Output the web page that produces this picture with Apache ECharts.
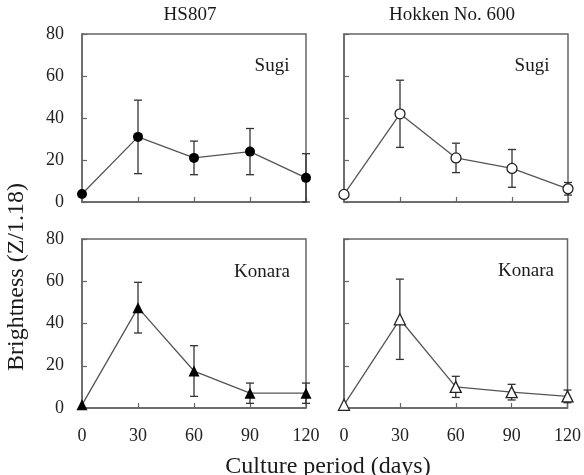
<!DOCTYPE html>
<html>
<head>
<meta charset="utf-8">
<script src="https://cdn.jsdelivr.net/npm/echarts@6/dist/echarts.min.js"></script>
<style>
  html, body { margin: 0; padding: 0; background: #fff; }
  #main { width: 584px; height: 475px; }
</style>
</head>
<body>
<div id="main"></div>
<script>
// culture period (days)
var days = [0, 30, 60, 90, 120];
var xTicks = [0, 30, 60, 90, 120];
var yTicks = [0, 20, 40, 60, 80];

// brightness means and error (half bar length)
var hsSugi = [3.8, 31, 21, 24, 11.5];
var hsSugiErr = [0, 17.5, 8, 11, 11.5];
var hkSugi = [3.6, 42, 21, 16, 6.3];
var hkSugiErr = [0, 16, 7, 9, 3];
var hsKonara = [1.5, 47.5, 17.5, 7, 7];
var hsKonaraErr = [0, 12, 12, 4.8, 4.8];
var hkKonara = [1.5, 42, 10, 7.5, 5.5];
var hkKonaraErr = [0, 19, 5, 3.7, 3];

var FONT = "'Liberation Serif', 'Times New Roman', serif";
var AX = '#666';

var chart = echarts.init(document.getElementById('main'), null, { renderer: 'canvas' });

// grid positions: TL, TR, BL, BR
var grids = [
  { left: 82, top: 34, width: 224, height: 168 },
  { left: 344, top: 34, width: 224, height: 168 },
  { left: 82, top: 239, width: 224, height: 169 },
  { left: 344, top: 239, width: 224, height: 169 }
];

function xAxisFor(i) {
  return {
    gridIndex: i, type: 'value', min: 0, max: 120, interval: 30,
    axisLine: { lineStyle: { color: AX, width: 1.5 } },
    axisTick: { inside: true, length: 5, lineStyle: { color: AX, width: 1.2 } },
    axisLabel: { show: i >= 2, margin: 19, fontFamily: FONT, fontSize: 18, color: '#222',
      customValues: xTicks },
    splitLine: { show: false }
  };
}
function yAxisFor(i) {
  return {
    gridIndex: i, type: 'value', min: 0, max: 80, interval: 20,
    axisLine: { show: true, lineStyle: { color: AX, width: 1.5 } },
    axisTick: { show: true, inside: true, length: 5, lineStyle: { color: AX, width: 1.2 } },
    axisLabel: { show: i % 2 === 0, margin: 18, fontFamily: FONT, fontSize: 18, color: '#222',
      customValues: yTicks },
    splitLine: { show: false }
  };
}

function zip(vals, errs) {
  return days.map(function (d, k) { return [d, vals[k], errs[k]]; });
}

function errBars(params, api) {
  var x = api.value(0), y = api.value(1), e = api.value(2);
  if (!e) return;
  var top = api.coord([x, y + e]);
  var bot = api.coord([x, y - e]);
  var w = 4;
  var st = { stroke: '#333', lineWidth: 1.3 };
  return {
    type: 'group',
    children: [
      { type: 'line', shape: { x1: top[0], y1: top[1], x2: bot[0], y2: bot[1] }, style: st },
      { type: 'line', shape: { x1: top[0] - w, y1: top[1], x2: top[0] + w, y2: top[1] }, style: st },
      { type: 'line', shape: { x1: bot[0] - w, y1: bot[1], x2: bot[0] + w, y2: bot[1] }, style: st }
    ]
  };
}

function panel(i, vals, errs, symbol, filled) {
  var d = zip(vals, errs);
  return [
    {
      type: 'custom', xAxisIndex: i, yAxisIndex: i, renderItem: errBars,
      data: d, encode: { x: 0, y: 1 }, clip: false, z: 2, silent: true
    },
    {
      type: 'line', xAxisIndex: i, yAxisIndex: i,
      data: d.map(function (p) { return [p[0], p[1]]; }),
      symbol: symbol, symbolSize: symbol === 'triangle' ? 11 : 10,
      showAllSymbol: true, clip: false, z: 3,
      lineStyle: { color: '#555', width: 1.3 },
      itemStyle: { color: filled ? '#000' : '#fff', borderColor: '#222', borderWidth: filled ? 0 : 1.3 },
      animation: false
    }
  ];
}

var series = [].concat(
  panel(0, hsSugi, hsSugiErr, 'circle', true),
  panel(1, hkSugi, hkSugiErr, 'circle', false),
  panel(2, hsKonara, hsKonaraErr, 'triangle', true),
  panel(3, hkKonara, hkKonaraErr, 'triangle', false)
);

function txt(x, y, s, size, rot) {
  return {
    type: 'text', x: x, y: y, rotation: rot || 0,
    style: { text: s, font: size + 'px ' + FONT, fill: '#1a1a1a', align: 'center', verticalAlign: 'middle' }
  };
}

chart.setOption({
  animation: false,
  backgroundColor: '#fff',
  grid: grids.map(function (g) {
    return Object.assign({ show: true, borderColor: AX, borderWidth: 1.5, backgroundColor: 'transparent' }, g);
  }),
  xAxis: [0, 1, 2, 3].map(xAxisFor),
  yAxis: [0, 1, 2, 3].map(yAxisFor),
  series: series,
  graphic: [
    txt(190, 15, 'HS807', 19),
    txt(452, 15, 'Hokken No. 600', 19),
    txt(272, 66, 'Sugi', 19),
    txt(532, 66, 'Sugi', 19),
    txt(262, 272, 'Konara', 19),
    txt(526, 271, 'Konara', 19),
    txt(17, 277, 'Brightness (Z/1.18)', 24, Math.PI / 2),
    txt(328, 467, 'Culture period (days)', 24)
  ]
});
</script>
</body>
</html>
